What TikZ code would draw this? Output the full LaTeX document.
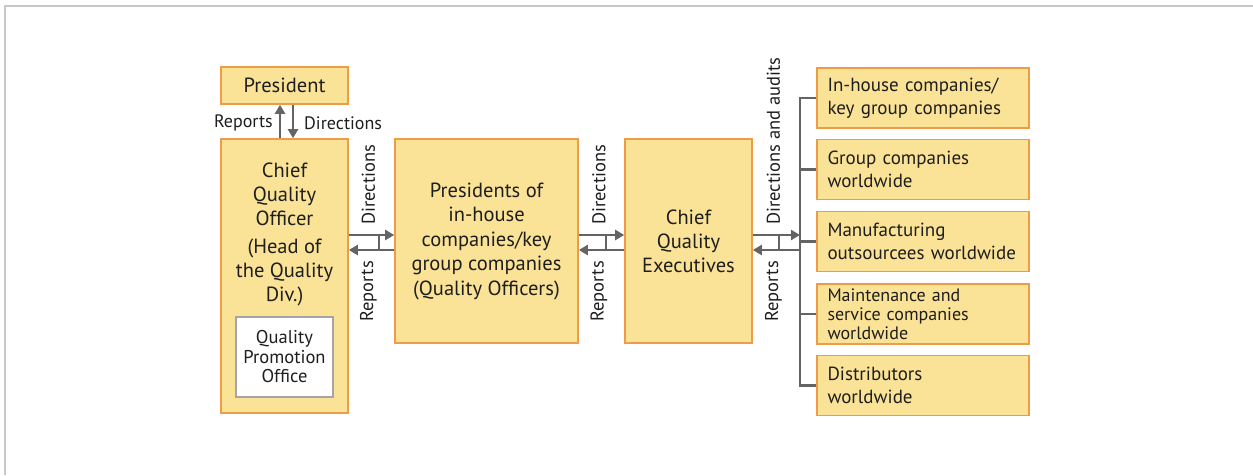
\documentclass[tikz,border=0pt]{standalone}
\usepackage{fontspec}
\setmainfont{PT Sans}
\usetikzlibrary{arrows.meta}
\definecolor{boxfill}{RGB}{250,226,150}
\definecolor{boxline}{RGB}{240,155,70}
\definecolor{arrgray}{RGB}{100,100,100}
\definecolor{framegray}{RGB}{200,200,200}
\definecolor{qpoline}{RGB}{165,165,165}
\definecolor{txt}{RGB}{30,30,30}
\tikzset{
  ybox/.style={draw=boxline, fill=boxfill, line width=1.6pt, inner sep=0pt, text=txt},
  maintext/.style={font=\fontsize{20.5}{24}\selectfont, align=center, text=txt},
  rbox/.style={ybox, minimum width=212pt, minimum height=60pt, text width=191pt, align=left,
    font=\fontsize{19}{23}\selectfont},
  lbl/.style={font=\fontsize{18}{20}\selectfont, text=txt, inner sep=0pt},
  vlbl/.style={font=\fontsize{18.5}{20}\selectfont, text=txt, inner sep=0pt, rotate=90},
  arr/.style={draw=arrgray, line width=2.6pt, -{Triangle[width=10pt,length=9pt]}},
  bus/.style={draw=arrgray, line width=2.2pt},
  tick/.style={draw=arrgray, line width=1.4pt}
}
\begin{document}
\begin{tikzpicture}[x=1pt,y=-1pt]
\useasboundingbox (0,0) rectangle (1253,475);
\draw[framegray, line width=2.5pt] (5,475) -- (5,6) -- (1253,6);

% Left column
\node[ybox, minimum width=127pt, minimum height=37pt, font=\fontsize{20.5}{22}\selectfont] (pres) at (284.5,85.5) {President};
\node[ybox, minimum width=127pt, minimum height=274pt] (cqo) at (284.5,276) {};
\node[maintext] (cqotext) at (284.5,234) {Chief\\Quality\\Officer\\[4pt](Head of\\the Quality\\Div.)};
\node[draw=qpoline, fill=white, line width=1.4pt, minimum width=97pt, minimum height=80pt, inner sep=0pt,
      align=center, text=txt, font=\fontsize{18.5}{19.5}\selectfont] (qpo) at (284.5,357) {Quality\\Promotion\\Office};

% Middle boxes
\node[ybox, minimum width=183pt, minimum height=204pt, maintext, font=\fontsize{20.5}{24.5}\selectfont] (pic) at (486.5,241)
  {Presidents of\\in-house\\companies/key\\group companies\\(Quality Officers)};
\node[ybox, minimum width=127pt, minimum height=204pt, maintext] (cqe) at (688.5,241)
  {Chief\\Quality\\Executives};

% Right boxes
\node[rbox] (r1) at (923,98) {In-house companies/\\key group companies};
\node[rbox] (r2) at (923,169.5) {Group companies\\worldwide};
\node[rbox] (r3) at (923,241.5) {Manufacturing\\outsourcees worldwide};
\node[rbox, font=\fontsize{18}{19}\selectfont] (r4) at (923,314) {Maintenance and\\service companies\\worldwide};
\node[rbox] (r5) at (923,385.5) {Distributors\\worldwide};

% President <-> CQO
\draw[arr] (cqo.north -| 280,0) -- (pres.south -| 280,0);
\draw[arr] (pres.south -| 293,0) -- (cqo.north -| 293,0);
\node[lbl, anchor=east] (lrep) at (273,123) {Reports};
\node[lbl, anchor=west] (ldir) at (304,123) {Directions};

% CQO <-> Presidents
\draw[arr] (cqo.east |- 0,235) -- (pic.west |- 0,235);
\draw[arr] (pic.west |- 0,250) -- (cqo.east |- 0,250);
\draw[tick] (379,235) -- (379,250);
\node[vlbl, anchor=west] (d1) at (368.5,225) {Directions};
\node[vlbl, anchor=east] (p1) at (368.5,261) {Reports};

% Presidents <-> CQE
\draw[arr] (pic.east |- 0,235) -- (cqe.west |- 0,235);
\draw[arr] (cqe.west |- 0,250) -- (pic.east |- 0,250);
\draw[tick] (606,235) -- (606,250);
\node[vlbl, anchor=west] (d2) at (599,225) {Directions};
\node[vlbl, anchor=east] (p2) at (599,261) {Reports};

% CQE <-> bus
\coordinate (busT) at (800,98);
\coordinate (busB) at (800,385.5);
\coordinate (busA) at (800,235);
\coordinate (busR) at (800,250);
\draw[bus] (r1.west) -- (busT) -- (busB) -- (r5.west);
\draw[bus] (800,169.5) -- (r2.west);
\draw[bus] (800,241.5) -- (r3.west);
\draw[bus] (800,314) -- (r4.west);
\draw[arr] (cqe.east |- busA) -- (busA);
\draw[arr] (busR) -- (cqe.east |- busR);
\draw[tick] (779,235) -- (779,250);
\node[vlbl, anchor=west] (d3) at (773.5,225) {Directions and audits};
\node[vlbl, anchor=east] (p3) at (773.5,261) {Reports};
\end{tikzpicture}
\end{document}
